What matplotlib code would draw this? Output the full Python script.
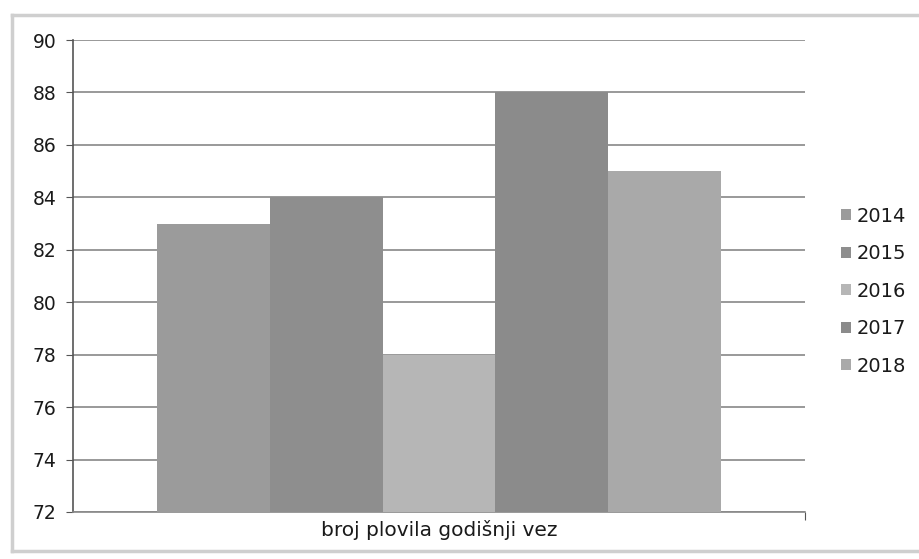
import matplotlib.pyplot as plt
from matplotlib.lines import Line2D

# number of vessels with a yearly berth, per year
years = ['2014', '2015', '2016', '2017', '2018']
vessels = [83, 84, 78, 88, 85]
bar_colors = ['#9b9b9b', '#8e8e8e', '#b6b6b6', '#8b8b8b', '#a9a9a9']
category = 'broj plovila godišnji vez'
y_ticks = [72, 74, 76, 78, 80, 82, 84, 86, 88, 90]

plt.rcParams['font.family'] = ['DejaVu Sans']

fig = plt.figure(figsize=(9.2, 5.59), dpi=100)
fig.patch.set_facecolor('white')

# outer chart frame (left, top, bottom edges)
frame_kw = dict(transform=fig.transFigure, color='#cfcfcf', linewidth=2.5)
fig.lines.append(Line2D([0.013, 0.013], [0.015, 0.973], **frame_kw))
fig.lines.append(Line2D([0.013, 1.0], [0.973, 0.973], **frame_kw))
fig.lines.append(Line2D([0.013, 1.0], [0.015, 0.015], **frame_kw))

ax = fig.add_axes([0.0793, 0.0841, 0.7957, 0.8443])

width = 1 / (len(years) + 1.5)
for i, (yr, v, c) in enumerate(zip(years, vessels, bar_colors)):
    ax.bar((i - 2) * width, v - 72, width=width, bottom=72, color=c,
           label=yr, zorder=3, linewidth=0)

ax.set_xlim(-0.5, 0.5)
ax.set_ylim(72, 90)
ax.set_yticks(y_ticks)
ax.tick_params(axis='y', labelsize=13.5, length=5, color='#555555', pad=7, labelcolor='#1a1a1a')
ax.set_xticks([0.5])
ax.set_xticklabels([''])
ax.tick_params(axis='x', length=6, color='#555555')

ax.yaxis.grid(True, color='#888888', linewidth=1.2, zorder=0)
for side in ['top', 'right']:
    ax.spines[side].set_visible(False)
ax.spines['left'].set_color('#555555')
ax.spines['bottom'].set_color('#888888')
ax.spines['left'].set_linewidth(1.2)
ax.spines['bottom'].set_linewidth(1.2)

ax.set_xlabel(category, fontsize=14.5, color='#1a1a1a', labelpad=-4)

leg = ax.legend(loc='center left', bbox_to_anchor=(1.025, 0.468), frameon=False,
                fontsize=14, handlelength=0.5, handleheight=0.5, handletextpad=0.3,
                labelspacing=0.95, labelcolor='#1a1a1a')

fig.savefig('out.png', dpi=100, facecolor='white')
